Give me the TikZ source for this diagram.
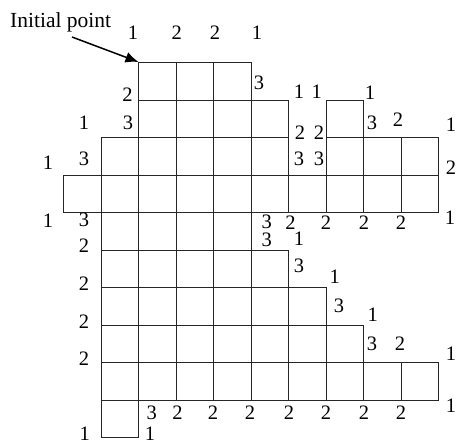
\documentclass[tikz,border=0pt]{standalone}
\usepackage{fontspec}
\setmainfont{Liberation Serif}
\usetikzlibrary{arrows.meta}
\begin{document}
\begin{tikzpicture}[x=1pt,y=-1pt,
  cell/.style={draw=black!85,line width=1pt},
  lbl/.style={inner sep=0pt,font=\fontsize{20.5}{24}\selectfont},
  txt/.style={inner sep=0pt,font=\fontsize{21.5}{26}\selectfont,anchor=base west},
  pointer/.style={line width=1.5pt,-{Latex[length=13pt,width=11pt]}}]
\useasboundingbox (0,0) rectangle (457,444);
\fill[white] (0,0) rectangle (457,444);
% cells: row / list of columns
\foreach \r/\cols in {0/{2,3,4},1/{2,3,4,5,7},2/{1,2,3,4,5,7,8,9},3/{0,1,2,3,4,5,6,7,8,9},4/{1,2,3,4},5/{1,2,3,4,5},6/{1,2,3,4,5,6},7/{1,2,3,4,5,6,7},8/{1,2,3,4,5,6,7,8,9},9/{1}}{
  \foreach \c in \cols {
    \draw[cell] ({63.5+37.5*\c},{62.5+37.5*\r}) rectangle ({101+37.5*\c},{100+37.5*\r});
  }
}
% title and arrow
\node[txt] (ip) at (10,27.7) {Initial point};
\coordinate (astart) at (72,37);
\coordinate (corner) at (138.5,62);
\draw[pointer] (astart) -- (corner);
% labels
\foreach \x/\y/\t [count=\i] in {
 133/33/1, 176.7/33/2, 215/33/2, 257/33/1,
 127.5/95/2, 128/122.5/3, 84/123/1,
 259/83/3, 299/92/1, 316.7/92/1, 370/93/1,
 372/122.5/3, 398/120/2, 451/125/1,
 300/133/2, 319/133/2, 299/159/3, 319/159/3, 451/168/2,
 48/162.5/1, 84/159/3, 48/221/1, 84/220/3, 450/218/1,
 84/246/2, 84/284/2, 84/322/2, 84/359/2,
 266.7/221.5/3, 290.5/222.5/2, 326/222.5/2, 364/222.5/2, 401/222.5/2,
 266.7/240/3, 299/239/1, 299/266/3,
 334.7/277/1, 339/306/3, 372.7/315/1,
 372/344/3, 400/344/2, 451/354/1, 451/406/1,
 151.7/412.5/3, 177.5/412.5/2, 213/412.5/2, 250/413/2, 289/413/2, 326/413/2, 364/413/2, 401/413/2,
 84.7/434/1, 150/434/1}{
  \node[lbl] (n\i) at (\x,\y) {\t};
}
\end{tikzpicture}
\end{document}
